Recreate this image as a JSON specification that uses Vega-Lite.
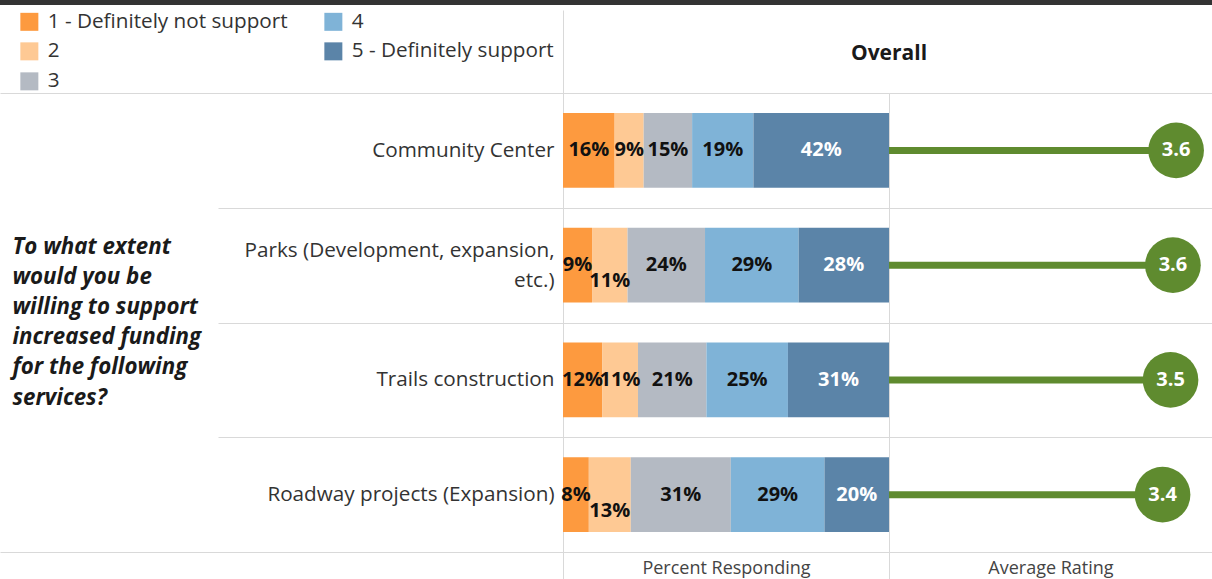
{
  "$schema": "https://vega.github.io/schema/vega-lite/v6.json",
  "padding": 0,
  "background": "white",
  "config": {"font": "Open Sans", "view": {"stroke": null}},
  "datasets": {
    "bars": [
      {"service": "Community Center", "level": 1, "pct": 0.16},
      {"service": "Community Center", "level": 2, "pct": 0.09},
      {"service": "Community Center", "level": 3, "pct": 0.15},
      {"service": "Community Center", "level": 4, "pct": 0.19},
      {"service": "Community Center", "level": 5, "pct": 0.42},
      {"service": "Parks (Development, expansion, etc.)", "level": 1, "pct": 0.09},
      {"service": "Parks (Development, expansion, etc.)", "level": 2, "pct": 0.11},
      {"service": "Parks (Development, expansion, etc.)", "level": 3, "pct": 0.24},
      {"service": "Parks (Development, expansion, etc.)", "level": 4, "pct": 0.29},
      {"service": "Parks (Development, expansion, etc.)", "level": 5, "pct": 0.28},
      {"service": "Trails construction", "level": 1, "pct": 0.12},
      {"service": "Trails construction", "level": 2, "pct": 0.11},
      {"service": "Trails construction", "level": 3, "pct": 0.21},
      {"service": "Trails construction", "level": 4, "pct": 0.25},
      {"service": "Trails construction", "level": 5, "pct": 0.31},
      {"service": "Roadway projects (Expansion)", "level": 1, "pct": 0.08},
      {"service": "Roadway projects (Expansion)", "level": 2, "pct": 0.13},
      {"service": "Roadway projects (Expansion)", "level": 3, "pct": 0.31},
      {"service": "Roadway projects (Expansion)", "level": 4, "pct": 0.29},
      {"service": "Roadway projects (Expansion)", "level": 5, "pct": 0.20}
    ],
    "avg": [
      {"service": "Community Center", "avg": 3.60},
      {"service": "Parks (Development, expansion, etc.)", "avg": 3.56},
      {"service": "Trails construction", "avg": 3.53},
      {"service": "Roadway projects (Expansion)", "avg": 3.43}
    ]
  },
  "bounds": "flush",
  "spacing": 88,
  "vconcat": [
    {
      "width": 1212,
      "height": 5,
      "data": {"name": "avg"},
      "view": {"fill": "#333333", "stroke": null},
      "mark": {"type": "rect", "color": "#333333"},
      "encoding": {}
    },
    {
      "bounds": "flush",
      "spacing": 0,
      "hconcat": [
        {
          "width": 563,
          "height": 459,
          "data": {"name": "avg"},
          "mark": {"type": "point", "opacity": 0},
          "encoding": {
            "y": {
              "field": "service", "type": "nominal",
              "sort": ["Community Center", "Parks (Development, expansion, etc.)", "Trails construction", "Roadway projects (Expansion)"],
              "scale": {"paddingInner": 0, "paddingOuter": 0},
              "axis": {
                "title": null, "labels": false, "ticks": false, "domain": false,
                "grid": true, "gridColor": "#d9d9d9", "tickBand": "extent",
                "gridOpacity": {"condition": {"test": "datum.index == -1 || datum.value == 'Roadway projects (Expansion)'", "value": 1}, "value": 0}
              }
            }
          }
        },
        {
          "width": 326,
          "height": 459,
          "data": {"name": "bars"},
          "view": {"stroke": "#d9d9d9"},
          "layer": [
            {
              "mark": {"type": "bar", "height": {"band": 0.65}},
              "encoding": {
                "y": {
                  "field": "service", "type": "nominal",
                  "sort": ["Community Center", "Parks (Development, expansion, etc.)", "Trails construction", "Roadway projects (Expansion)"],
                  "scale": {"paddingInner": 0, "paddingOuter": 0},
                  "axis": {
                    "title": ["To what extent", "would you be", "willing to support", "increased funding", "for the following", "services?"],
                    "titleAngle": 0, "titleAlign": "left", "titleBaseline": "middle",
                    "titleX": -551, "titleY": 153,
                    "titleFontSize": 22.3, "titleFontStyle": "italic", "titleFontWeight": "bold",
                    "titleLineHeight": 30.2, "titleColor": "#1a1a1a",
                    "tickBand": "extent", "tickSize": 345, "tickColor": "#d9d9d9",
                    "domain": false, "grid": true, "gridColor": "#d9d9d9",
                    "labelPadding": -336, "labelFontSize": 20.7, "labelColor": "#333333",
                    "labelLimit": 0, "labelLineHeight": 30,
                    "labelOffset": {"condition": {"test": "datum.value == 'Parks (Development, expansion, etc.)'", "value": -15}, "value": 0},
                    "labelExpr": "datum.value == 'Parks (Development, expansion, etc.)' ? ['Parks (Development, expansion,', 'etc.)'] : datum.value"
                  }
                },
                "x": {
                  "field": "pct", "type": "quantitative", "stack": "normalize",
                  "scale": {"domain": [0, 1]},
                  "axis": {
                    "orient": "bottom", "title": "Percent Responding", "labels": false,
                    "values": [0, 1], "tickSize": 27, "tickColor": "#d9d9d9",
                    "domain": false, "grid": false,
                    "titleFontSize": 18, "titleFontWeight": "normal", "titleColor": "#444444",
                    "titlePadding": -20
                  }
                },
                "color": {
                  "field": "level", "type": "ordinal",
                  "scale": {"domain": [1, 2, 3, 4, 5], "range": ["#fd9a3f", "#fec994", "#b4bac3", "#7fb3d7", "#5b84a8"]},
                  "legend": {
                    "title": null, "orient": "none", "legendX": 19, "legendY": 11,
                    "columns": 2, "symbolType": "square", "symbolSize": 324,
                    "symbolStrokeWidth": 0, "symbolOpacity": 1,
                    "labelFontSize": 20.7, "labelColor": "#333333", "labelOffset": 8,
                    "labelLimit": 400,
                    "rowPadding": 8, "columnPadding": 35,
                    "labelExpr": "datum.value == 1 ? '1 - Definitely not support' : datum.value == 5 ? '5 - Definitely support' : datum.label"
                  }
                },
                "order": {"field": "level", "type": "quantitative"}
              }
            },
            {
              "mark": {"type": "text", "fontSize": 20, "fontWeight": "bold", "baseline": "middle"},
              "encoding": {
                "y": {"field": "service", "type": "nominal", "sort": ["Community Center", "Parks (Development, expansion, etc.)", "Trails construction", "Roadway projects (Expansion)"]},
                "x": {
                  "field": "pct", "type": "quantitative", "stack": "normalize", "bandPosition": 0.5,
                  "axis": {"orient": "top", "title": null, "labels": false, "values": [0], "tickSize": 83, "tickColor": "#d9d9d9", "domain": false, "grid": false}
                },
                "detail": {"field": "level", "type": "ordinal"},
                "order": {"field": "level", "type": "quantitative"},
                "text": {
                  "field": "pct", "type": "quantitative", "format": ".0%",
                  "condition": {"test": "datum.level == 2 && (datum.service == 'Parks (Development, expansion, etc.)' || datum.service == 'Roadway projects (Expansion)')", "value": ""}
                },
                "color": {"condition": {"test": "datum.level == 5", "value": "white"}, "value": "#111111"}
              }
            },
            {
              "mark": {"type": "text", "fontSize": 20, "fontWeight": "bold", "baseline": "middle", "dy": 16},
              "encoding": {
                "y": {"field": "service", "type": "nominal", "sort": ["Community Center", "Parks (Development, expansion, etc.)", "Trails construction", "Roadway projects (Expansion)"]},
                "x": {"field": "pct", "type": "quantitative", "stack": "normalize", "bandPosition": 0.5, "axis": null},
                "detail": {"field": "level", "type": "ordinal"},
                "order": {"field": "level", "type": "quantitative"},
                "text": {
                  "field": "pct", "type": "quantitative", "format": ".0%",
                  "condition": {"test": "!(datum.level == 2 && (datum.service == 'Parks (Development, expansion, etc.)' || datum.service == 'Roadway projects (Expansion)'))", "value": ""}
                },
                "color": {"value": "#111111"}
              }
            }
          ],
          "resolve": {"axis": {"x": "independent"}}
        },
        {
          "width": 323,
          "height": 459,
          "data": {"name": "avg"},
          "title": {"text": "Overall", "anchor": "start", "align": "center", "fontSize": 21, "fontWeight": "bold", "color": "#1a1a1a", "offset": 29},
          "encoding": {
            "y": {
              "field": "service", "type": "nominal",
              "sort": ["Community Center", "Parks (Development, expansion, etc.)", "Trails construction", "Roadway projects (Expansion)"],
              "scale": {"paddingInner": 0, "paddingOuter": 0},
              "axis": {"title": null, "labels": false, "ticks": false, "domain": false, "grid": true, "gridColor": "#d9d9d9", "tickBand": "extent"}
            }
          },
          "layer": [
            {
              "mark": {"type": "bar", "height": 7, "color": "#5f8b2f"},
              "encoding": {
                "x": {"field": "avg", "type": "quantitative", "scale": {"domain": [0, 4.05], "nice": false},
                  "axis": {"title": "Average Rating", "labels": false, "ticks": false, "domain": false, "grid": false, "titleFontSize": 18, "titleFontWeight": "normal", "titleColor": "#444444", "titlePadding": 7}}
              }
            },
            {
              "mark": {"type": "circle", "size": 3100, "opacity": 1, "color": "#5f8b2f"},
              "encoding": {"x": {"field": "avg", "type": "quantitative"}}
            },
            {
              "mark": {"type": "text", "fontSize": 20, "fontWeight": "bold", "color": "white", "baseline": "middle"},
              "encoding": {"x": {"field": "avg", "type": "quantitative"}, "text": {"field": "avg", "type": "quantitative", "format": ".1f"}}
            }
          ]
        }
      ]
    }
  ]
}
